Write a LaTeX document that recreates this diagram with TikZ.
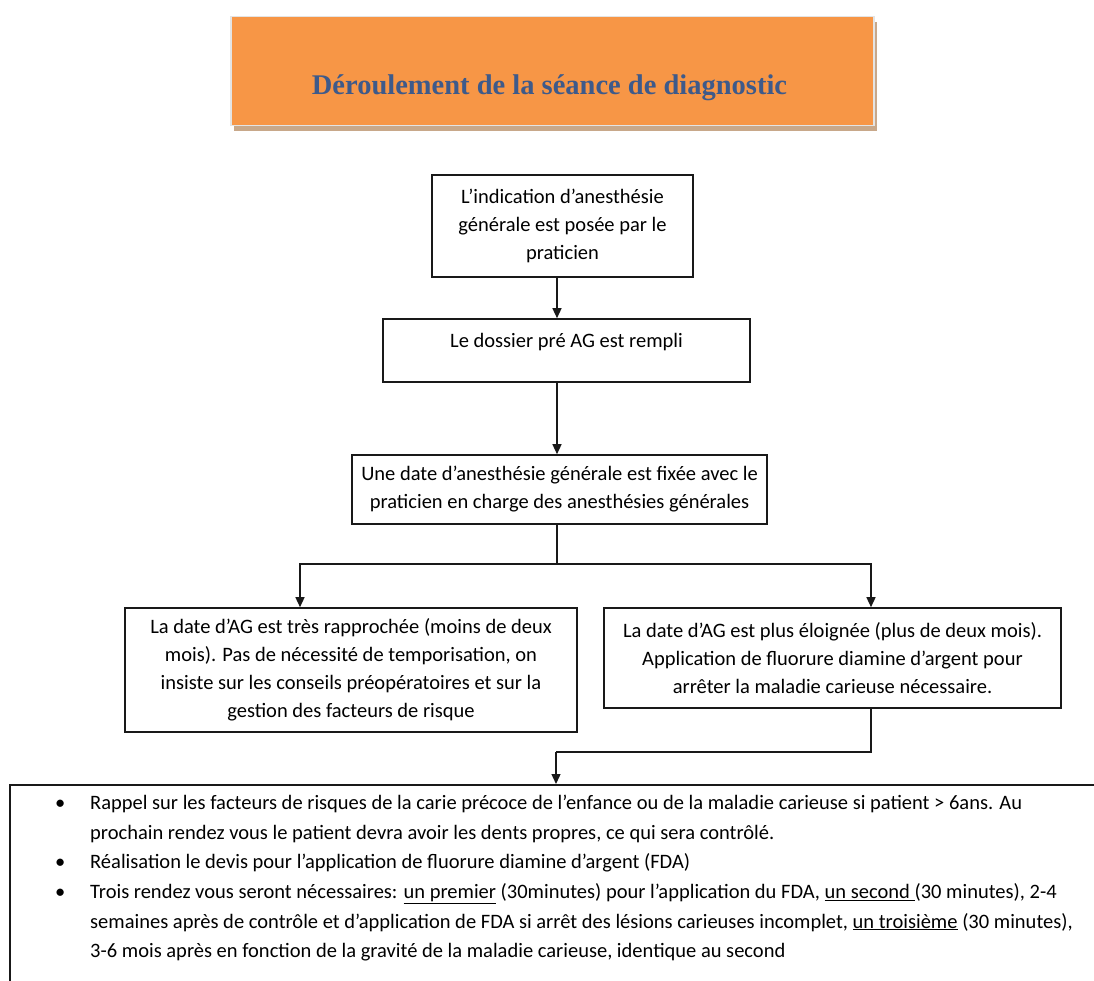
\documentclass[tikz,border=0pt]{standalone}
\usepackage{fontspec}
\setmainfont{Carlito}
\newfontfamily\titlefont{Liberation Serif}
\usetikzlibrary{arrows.meta,calc}
\definecolor{titleorange}{RGB}{247,150,70}
\definecolor{titleblue}{RGB}{62,90,138}
\definecolor{shadowtan}{RGB}{200,168,138}
\definecolor{edgegray}{RGB}{228,228,228}
\begin{document}
\begin{tikzpicture}[x=1pt,y=-1pt,
  flowbox/.style={draw=black!90,line width=1.6pt,rectangle,inner sep=0pt,align=center,
    font=\fontsize{20.5}{28}\selectfont},
  plaintext/.style={inner sep=0pt,font=\fontsize{20.5}{28}\selectfont},
  conn/.style={draw=black!90,line width=1.4pt},
  arr/.style={conn,-{Triangle[length=10pt,width=9pt]}},
  ]
\useasboundingbox (0,0) rectangle (1094,981);
% title
\fill[shadowtan] (234,22) rectangle (877,131);
\node[fill=titleorange,draw=edgegray,line width=1.5pt,minimum width=643pt,minimum height=109pt,
  anchor=north west,inner sep=0pt] (title) at (230,16) {};
\node[inner sep=0pt,text=titleblue,font=\titlefont\bfseries\fontsize{28.5}{30}\selectfont] (titletext)
  at (549.5,88) {Déroulement de la séance de diagnostic};
% boxes
\node[flowbox,minimum width=261pt,minimum height=102pt] (box1) at (562.5,226)
  {L’indication d’anesthésie\\générale est posée par le\\praticien};
\node[flowbox,minimum width=367pt,minimum height=63pt] (box2) at (566.5,350.5) {};
\node[plaintext] (box2text) at (566.5,342) {Le dossier pré AG est rempli};
\node[flowbox,minimum width=415pt,minimum height=69pt] (box3) at (559.5,489.5)
  {Une date d’anesthésie générale est fixée avec le\\praticien en charge des anesthésies générales};
\node[flowbox,minimum width=452pt,minimum height=124pt] (leftbox) at (351,670)
  {La date d’AG est très rapprochée (moins de deux\\mois). Pas de nécessité de temporisation, on\\insiste sur les conseils préopératoires et sur la\\gestion des facteurs de risque};
\node[flowbox,minimum width=457pt,minimum height=100pt] (rightbox) at (832.5,658)
  {La date d’AG est plus éloignée (plus de deux mois).\\Application de fluorure diamine d’argent pour\\arrêter la maladie carieuse nécessaire.};
\node[flowbox,minimum width=1110pt,minimum height=230pt,anchor=north west] (bottombox) at (9,784) {};
\node[plaintext,anchor=north west,align=left,font=\fontsize{20.5}{29.6}\selectfont] (list) at (55,795) {%
\makebox[35pt][l]{\textbullet}Rappel sur les facteurs de risques de la carie précoce de l’enfance ou de la maladie carieuse si patient > 6ans. Au\\
\hspace*{35pt}prochain rendez vous le patient devra avoir les dents propres, ce qui sera contrôlé.\\
\makebox[35pt][l]{\textbullet}Réalisation le devis pour l’application de fluorure diamine d’argent (FDA)\\
\makebox[35pt][l]{\textbullet}Trois rendez vous seront nécessaires: \underline{un premier} (30minutes) pour l’application du FDA, \underline{un second }(30 minutes), 2-4\\
\hspace*{35pt}semaines après de contrôle et d’application de FDA si arrêt des lésions carieuses incomplet, \underline{un troisième} (30 minutes),\\
\hspace*{35pt}3-6 mois après en fonction de la gravité de la maladie carieuse, identique au second};
% connectors
\coordinate (cx) at (557,0);
\coordinate (lx) at (300,0);
\coordinate (rx) at (871,0);
\coordinate (split) at (557,564);
\coordinate (merge) at (556,752);
\draw[arr] (box1.south -| cx) -- (box2.north -| cx);
\draw[arr] (box2.south -| cx) -- (box3.north -| cx);
\draw[conn] (box3.south -| cx) -- (split);
\draw[arr] (split) -| (leftbox.north -| lx);
\draw[arr] (split) -| (rightbox.north -| rx);
\draw[conn] (rightbox.south -| rx) |- (merge);
\draw[arr] (merge) -- (bottombox.north -| merge);
\end{tikzpicture}
\end{document}
